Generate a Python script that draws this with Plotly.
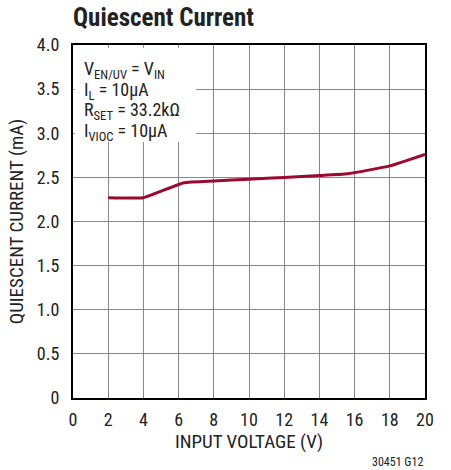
import plotly.graph_objects as go

vin = [2, 4, 6.3, 8, 10, 12, 14, 15.6, 18, 20]
iq = [2.27, 2.27, 2.44, 2.46, 2.48, 2.50, 2.52, 2.54, 2.63, 2.76]

x_ticks = list(range(0, 21, 2))
y_ticks = [0, 0.5, 1.0, 1.5, 2.0, 2.5, 3.0, 3.5, 4.0]
y_tick_labels = ["0", "0.5", "1.0", "1.5", "2.0", "2.5", "3.0", "3.5", "4.0"]

cond_lines = ["V<sub>EN/UV</sub> = V<sub>IN</sub>", "I<sub>L</sub> = 10µA",
              "R<sub>SET</sub> = 33.2kΩ", "I<sub>VIOC</sub> = 10µA"]

FONT = "Roboto Condensed, Liberation Sans Narrow, Arial Narrow, Liberation Sans, sans-serif"

fig = go.Figure()
fig.add_trace(go.Scatter(x=vin, y=iq, mode="lines",
                         line=dict(color="#9b0a2e", width=3, shape="spline", smoothing=0.4),
                         hoverinfo="skip"))

fig.update_layout(
    width=451, height=470,
    margin=dict(l=73, r=26, t=45, b=72),
    paper_bgcolor="white", plot_bgcolor="white",
    showlegend=False,
    font=dict(family=FONT, size=18, color="#222"),
    title=dict(text="<b>Quiescent Current</b>", x=73/451, xanchor="left", y=1-17/470, yanchor="middle",
               font=dict(family=FONT, size=25, color="#222")),
)
fig.update_xaxes(range=[0, 20], tickvals=x_ticks, showgrid=True, gridcolor="#888", gridwidth=1.3,
                 showline=True, linecolor="black", linewidth=2, mirror=True, ticks="", zeroline=False,
                 ticklabelstandoff=4,
                 title=dict(text="INPUT VOLTAGE (V)", standoff=6, font=dict(size=19)),
                 tickfont=dict(size=18))
fig.update_yaxes(range=[0, 4], tickvals=y_ticks, ticktext=y_tick_labels, showgrid=True, gridcolor="#888",
                 gridwidth=1.3, showline=True, linecolor="black", linewidth=2, mirror=True, ticks="",
                 zeroline=False, ticklabelstandoff=8,
                 title=dict(text="QUIESCENT CURRENT (mA)", standoff=8, font=dict(size=19)),
                 tickfont=dict(size=18))

fig.add_shape(type="rect", xref="x", yref="y", x0=0.1, x1=7.0, y0=2.9, y1=3.97,
              fillcolor="white", line=dict(width=0), layer="above")

for i, t in enumerate(cond_lines):
    fig.add_annotation(text=t, xref="paper", yref="paper", x=9/352, y=1 - (11 + 20.7 * i)/353,
                       xanchor="left", yanchor="top", showarrow=False, align="left",
                       font=dict(family=FONT, size=18, color="#222"))

fig.add_annotation(text="30451 G12", xref="paper", yref="paper", x=1, y=-(462-398)/353,
                   xanchor="right", yanchor="middle", showarrow=False,
                   font=dict(family=FONT, size=12, color="#222"))

fig.write_html("out.html", config={"displayModeBar": False},
               post_script="document.body.style.margin='0';document.body.style.padding='0';")
